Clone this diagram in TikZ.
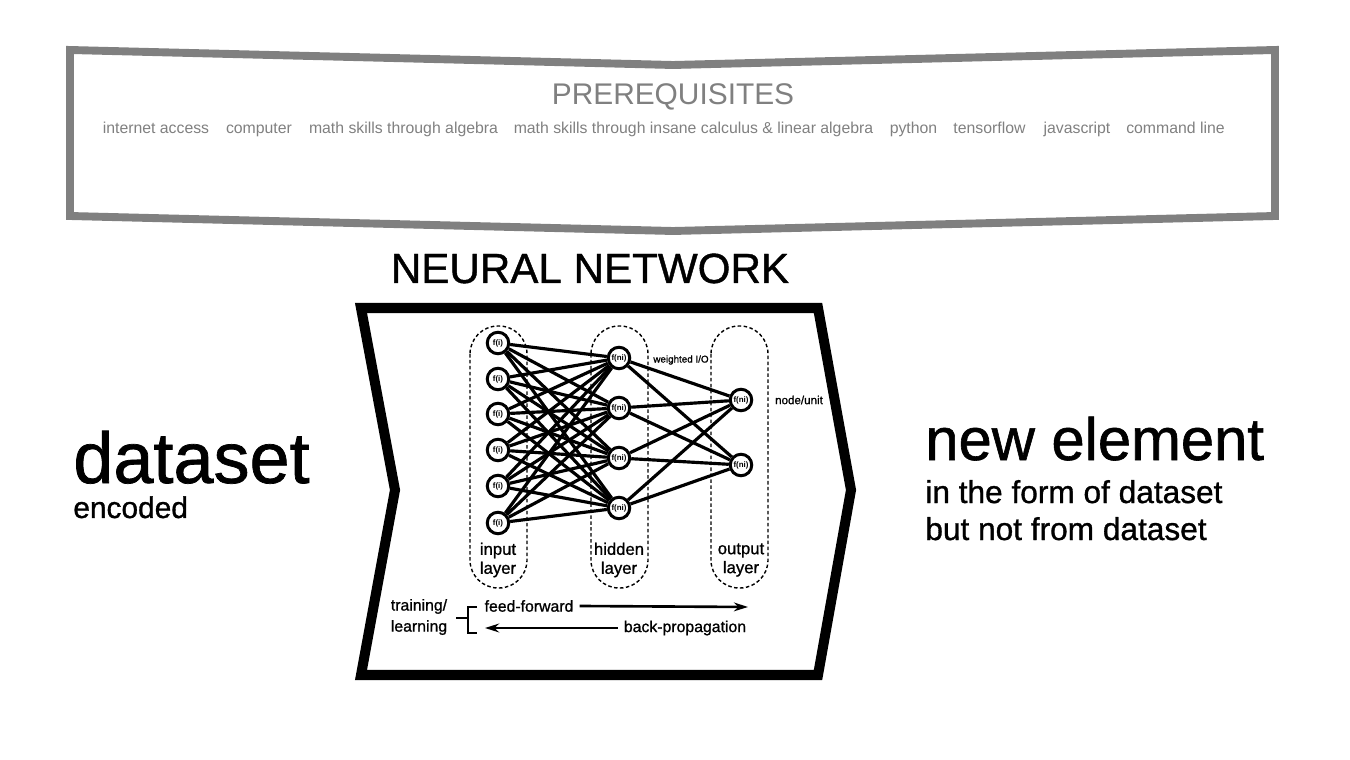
\documentclass[tikz,border=0pt]{standalone}
\usepackage{fontspec}
\setmainfont{Liberation Sans}
\newfontfamily\medfont[FakeBold=1]{Liberation Sans}
\usetikzlibrary{arrows.meta}
\definecolor{pregray}{HTML}{808080}

\begin{document}
\begin{tikzpicture}[x=0.02cm, y=-0.02cm]
\useasboundingbox (0,0) rectangle (1350,760);

% prerequisites banner
\draw [pregray, line width=4.5pt, line join=miter] (70,50) -- (673,65) -- (1275,50) -- (1275,216) -- (673,231) -- (70,216) -- cycle;
\node [pregray, anchor=base, inner sep=0, font=\fontsize{17}{20}\selectfont] (pre) at (673,105) {PREREQUISITES};
\begin{scope}[every node/.style={pregray, anchor=base, inner sep=0, font=\fontsize{9}{11}\selectfont}]
    \node (p1) at (156,134) {internet access};
    \node (p2) at (259,134) {computer};
    \node (p3) at (403.5,134) {math skills through algebra};
    \node (p4) at (693.5,134) {math skills through insane calculus \& linear algebra};
    \node (p5) at (913.5,134) {python};
    \node (p6) at (989.5,134) {tensorflow};
    \node (p7) at (1077,134) {javascript};
    \node (p8) at (1175.5,134) {command line};
\end{scope}

% left and right texts
\node [anchor=base west, inner sep=0, font=\medfont\fontsize{41}{48}\selectfont] (ds) at (73,483) {dataset};
\node [anchor=base west, inner sep=0, font=\medfont\fontsize{17}{20}\selectfont] (enc) at (73,518) {encoded};
\node [anchor=base west, inner sep=0, font=\medfont\fontsize{34}{40}\selectfont] (ne) at (925,460) {new element};
\node [anchor=base west, inner sep=0, font=\medfont\fontsize{18}{22}\selectfont] (form) at (925,503) {in the form of dataset};
\node [anchor=base west, inner sep=0, font=\medfont\fontsize{18}{22}\selectfont] (notfrom) at (925,540) {but not from dataset};

% neural network chevron
\node [anchor=base, inner sep=0, font=\medfont\fontsize{24}{28}\selectfont] (nn) at (590,283) {NEURAL NETWORK};
\draw [line width=5.7pt, line join=miter] (361,308) -- (818,308) -- (851,490) -- (818,675) -- (361,675) -- (395,490) -- cycle;

% layer capsules
\begin{scope}[line width=0.8pt, dash pattern=on 2pt off 1.4pt, rounded corners=0.56cm]
    \draw (470,326) rectangle (527,588);
    \draw (591,326) rectangle (648,588);
    \draw (711,326) rectangle (768,588);
\end{scope}

\begin{scope}[every node/.style={circle, draw, line width=1.7pt, fill=white, inner sep=0, minimum size=0.43cm, font=\bfseries\fontsize{4.5}{5}\selectfont}]
    \node (i1) at (498,343) {f(i)};
    \node (i2) at (498,379) {f(i)};
    \node (i3) at (498,414) {f(i)};
    \node (i4) at (498,450) {f(i)};
    \node (i5) at (498,486) {f(i)};
    \node (i6) at (498,523) {f(i)};

    \node (h1) at (619,358) {f(ni)};
    \node (h2) at (619,408) {f(ni)};
    \node (h3) at (619,458) {f(ni)};
    \node (h4) at (619,508) {f(ni)};

    \node (o1) at (741,400) {f(ni)};
    \node (o2) at (741,465) {f(ni)};

    \path [line width=1.8pt] (i1) edge (h1);
    \path [line width=1.8pt] (i1) edge (h2);
    \path [line width=1.8pt] (i1) edge (h3);
    \path [line width=1.8pt] (i1) edge (h4);
    \path [line width=1.8pt] (i2) edge (h1);
    \path [line width=1.8pt] (i2) edge (h2);
    \path [line width=1.8pt] (i2) edge (h3);
    \path [line width=1.8pt] (i2) edge (h4);
    \path [line width=1.8pt] (i3) edge (h1);
    \path [line width=1.8pt] (i3) edge (h2);
    \path [line width=1.8pt] (i3) edge (h3);
    \path [line width=1.8pt] (i3) edge (h4);
    \path [line width=1.8pt] (i4) edge (h1);
    \path [line width=1.8pt] (i4) edge (h2);
    \path [line width=1.8pt] (i4) edge (h3);
    \path [line width=1.8pt] (i4) edge (h4);
    \path [line width=1.8pt] (i5) edge (h1);
    \path [line width=1.8pt] (i5) edge (h2);
    \path [line width=1.8pt] (i5) edge (h3);
    \path [line width=1.8pt] (i5) edge (h4);
    \path [line width=1.8pt] (i6) edge (h1);
    \path [line width=1.8pt] (i6) edge (h2);
    \path [line width=1.8pt] (i6) edge (h3);
    \path [line width=1.8pt] (i6) edge (h4);

    \path [line width=1.8pt] (h1) edge (o1);
    \path [line width=1.8pt] (h1) edge (o2);
    \path [line width=1.8pt] (h2) edge (o1);
    \path [line width=1.8pt] (h2) edge (o2);
    \path [line width=1.8pt] (h3) edge (o1);
    \path [line width=1.8pt] (h3) edge (o2);
    \path [line width=1.8pt] (h4) edge (o1);
    \path [line width=1.8pt] (h4) edge (o2);
\end{scope}

% layer labels
\begin{scope}[every node/.style={align=center, inner sep=0, font=\medfont\fontsize{9.5}{10.8}\selectfont}]
    \node (inl) at (498,560) {input\\layer};
    \node (hil) at (619,560) {hidden\\layer};
    \node (oul) at (741,560) {output\\layer};
\end{scope}
\node [inner sep=0, font=\medfont\fontsize{5.6}{7}\selectfont] (wio) at (681,360) {weighted I/O};
\node [inner sep=0, font=\medfont\fontsize{6.6}{8}\selectfont] (unit) at (799,400) {node/unit};

% training / learning
\node [align=left, inner sep=0, font=\medfont\fontsize{9}{12}\selectfont] (train) at (419,617) {training/\\learning};
\draw [line width=1.7pt] (456,618) -- (468,618);
\draw [line width=1.7pt] (477,607) -- (468,607) -- (468,633) -- (477,633);
\node [font=\medfont\fontsize{9}{11}\selectfont] (ff) at (529,606) {feed-forward};
\node [font=\medfont\fontsize{9}{11}\selectfont] (bp) at (685,628) {back-propagation};
\coordinate (ffend) at (748,607);
\coordinate (bpend) at (485,628);
\draw [line width=1.5pt, -{Stealth[length=8pt, width=5pt]}] (ff.east) -- (ffend);
\draw [line width=1.5pt, -{Stealth[length=8pt, width=5pt]}] (bp.west) -- (bpend);

\end{tikzpicture}
\end{document}
